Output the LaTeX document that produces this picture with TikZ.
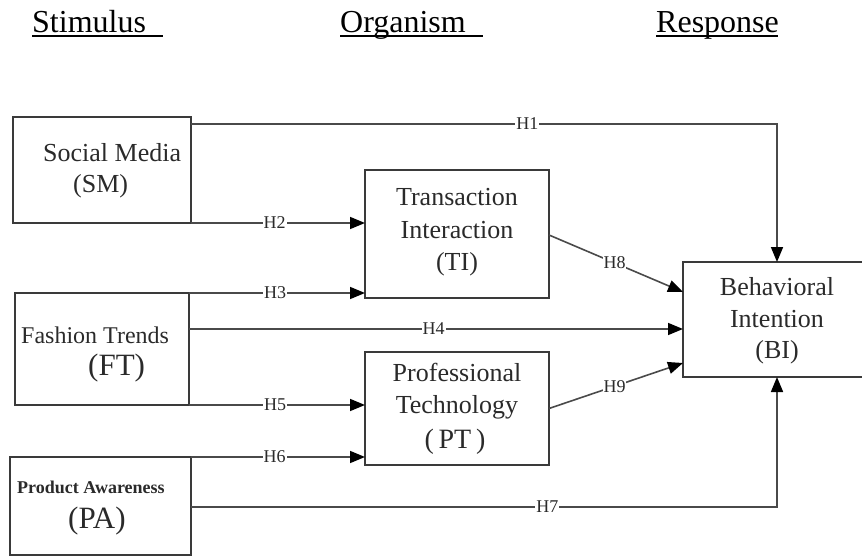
\documentclass[tikz,border=0pt]{standalone}
\usepackage{fontspec}
\setmainfont{Liberation Serif}
\usetikzlibrary{arrows.meta}
\definecolor{boxc}{HTML}{3A3A3A}
\definecolor{linec}{HTML}{4A4A4A}
\definecolor{txtc}{HTML}{2A2A2A}
\tikzset{
  box/.style={draw=boxc, line width=2pt, inner sep=0pt, outer sep=0pt},
  txt/.style={anchor=base, inner sep=0pt, text=txtc, font=\fontsize{26}{26}\selectfont},
  txtw/.style={anchor=base west, inner sep=0pt, text=txtc},
  head/.style={anchor=base west, inner sep=0pt, font=\fontsize{32}{32}\selectfont},
  uline/.style={line width=2pt},
  lab/.style={fill=white, inner sep=1pt, text=txtc, font=\fontsize{18}{18}\selectfont},
  conn/.style={draw=linec, line width=1.6pt},
  arr/.style={conn, -{Triangle[length=15pt,width=12pt,color=black]}},
}
\begin{document}
\begin{tikzpicture}[x=1pt,y=-1pt]
\useasboundingbox (0,0) rectangle (862,556);
\clip (0,0) rectangle (862,556);

% headers
\node[head] (stim) at (32,33) {Stimulus};
\node[head] (org) at (340,33) {Organism};
\node[head] (resp) at (656,33) {Response};
\draw[uline] ([yshift=-3.5pt]stim.base west) -- ++(131,0);
\draw[uline] ([yshift=-3.5pt]org.base west) -- ++(143,0);
\draw[uline] ([yshift=-3.5pt]resp.base west) -- ++(122,0);

% boxes
\node[box, minimum width=178pt, minimum height=106pt] (SM) at (102,170) {};
\node[box, minimum width=174pt, minimum height=112pt] (FT) at (102,349) {};
\node[box, minimum width=181pt, minimum height=98pt] (PA) at (100.5,506) {};
\node[box, minimum width=184pt, minimum height=128pt] (TI) at (457,234) {};
\node[box, minimum width=184pt, minimum height=113pt] (PT) at (457,408.5) {};
\node[box, minimum width=188pt, minimum height=115pt] (BI) at (777,319.5) {};

% box texts
\node[txtw, font=\fontsize{26}{26}\selectfont] (sm1) at (43,162) {Social Media};
\node[txtw, font=\fontsize{26}{26}\selectfont] (sm2) at (73,193) {(SM)};
\node[txtw, font=\fontsize{24}{24}\selectfont] (ft1) at (21,343) {Fashion Trends};
\node[txtw, font=\fontsize{31}{31}\selectfont] (ft2) at (88,375) {(FT)};
\node[txtw, font=\bfseries\fontsize{18}{18}\selectfont] (pa1) at (17,493) {Product Awareness};
\node[txtw, font=\fontsize{31}{31}\selectfont] (pa2) at (68,528) {(PA)};
\node[txt] (ti1) at (457,206) {Transaction};
\node[txt] (ti2) at (457,238) {Interaction};
\node[txt] (ti3) at (457,270) {(TI)};
\node[txt] (pt1) at (457,381) {Professional};
\node[txt] (pt2) at (457,413) {Technology};
\node[txt, font=\fontsize{28}{28}\selectfont] (pt3) at (455,448) {(\,PT\,)};
\node[txt] (bi1) at (777,295) {Behavioral};
\node[txt] (bi2) at (777,327) {Intention};
\node[txt] (bi3) at (777,358) {(BI)};

% connectors
\coordinate (h1s) at ([yshift=-7pt]SM.north east);
\draw[arr] (h1s) -- node[lab, pos=0.574] {H1} (BI.north |- h1s) -- (BI.north);
\draw[arr] (SM.south east) -- node[lab, pos=0.48] {H2} (SM.south east -| TI.west);
\draw[arr] (FT.north east) -- node[lab, pos=0.49] {H3} (FT.north east -| TI.west);
\coordinate (h4s) at ([yshift=-36pt]FT.north east);
\draw[arr] (h4s) -- node[lab, pos=0.495] {H4} (h4s -| BI.west);
\draw[arr] (FT.south east) -- node[lab, pos=0.49] {H5} (FT.south east -| PT.west);
\draw[arr] (PA.north east) -- node[lab, pos=0.48] {H6} (PA.north east -| PT.west);
\coordinate (h7s) at ([yshift=-50pt]PA.north east);
\draw[arr] (h7s) -- node[lab, pos=0.608] {H7} (BI.south |- h7s) -- (BI.south);
\draw[arr] ([yshift=-65pt]TI.north east) -- node[lab, pos=0.49, inner sep=0.5pt] {H8} ([yshift=-30pt]BI.north west);
\draw[arr] (PT.east) -- node[lab, pos=0.49, inner sep=0.5pt] {H9} ([yshift=-101pt]BI.north west);
\end{tikzpicture}
\end{document}
